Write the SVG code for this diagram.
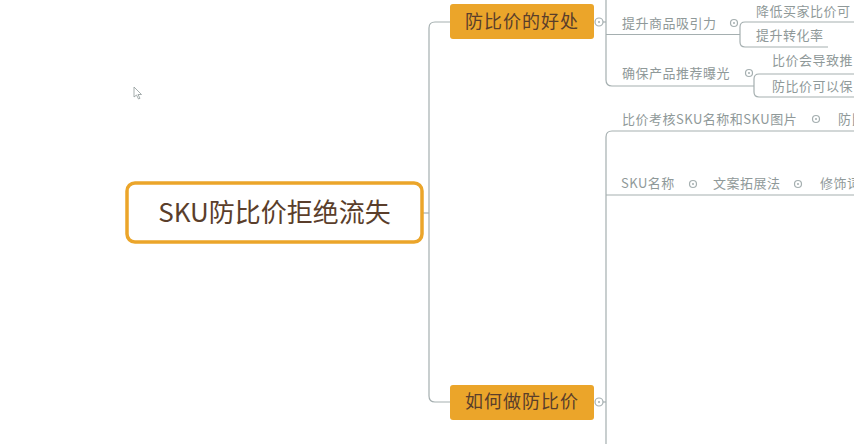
<svg xmlns="http://www.w3.org/2000/svg" width="854" height="444" viewBox="0 0 854 444">
<style>
.ln{fill:none;stroke:#a5afb0;stroke-width:1.2}
.root{fill:#ffffff;stroke:#eba52a;stroke-width:3.5}
.br{fill:#eba52a}
.rt{font-family:"Noto Sans CJK SC","Noto Sans",sans-serif;font-size:26px;fill:#5a3e2b}
.bt{font-family:"Noto Sans CJK SC","Noto Sans",sans-serif;font-size:18px;fill:#5a3e2b;letter-spacing:1px}
.st{font-family:"Noto Sans CJK SC","Noto Sans",sans-serif;font-size:13px;fill:#8f9999;letter-spacing:0.5px}
.cc{fill:#ffffff;stroke:#a5afb0;stroke-width:1.2}
.dot{fill:#a5afb0}
</style>
<rect width="854" height="444" fill="#ffffff"/>
<g id="connectors">
<path class="ln" d="M423 213 H429"/>
<path class="ln" d="M450 22 H435 Q429 22 429 28 V396 Q429 402 435 402 H450"/>
<path class="ln" d="M603 22 H606"/>
<path class="ln" d="M606 0 V80 Q606 86 612 86 H754"/>
<path class="ln" d="M606 34.5 H740"/>
<path class="ln" d="M854 22 H745 Q740 22 740 27 V42 Q740 47 745 47 H828"/>
<path class="ln" d="M854 74 H759 Q754 74 754 79 V92 Q754 97 759 97 H854"/>
<path class="ln" d="M603 402 H606"/>
<path class="ln" d="M606 444 V137 Q606 131 612 131 H854"/>
<path class="ln" d="M606 195 H854"/>
</g>
<g id="root">
<rect class="root" x="127" y="183" width="295" height="59" rx="8"/>
<text class="rt" x="274.5" y="222" text-anchor="middle">SKU防比价拒绝流失</text>
</g>
<g id="branch-benefits">
<rect class="br" x="450" y="4" width="144" height="35" rx="3"/>
<text class="bt" x="522" y="28" text-anchor="middle">防比价的好处</text>
<circle class="cc" cx="599" cy="22" r="4"/><circle class="dot" cx="599" cy="22" r="1"/>
</g>
<g id="branch-how">
<rect class="br" x="450" y="385" width="144" height="35" rx="3"/>
<text class="bt" x="522" y="408" text-anchor="middle">如何做防比价</text>
<circle class="cc" cx="599" cy="402" r="4"/><circle class="dot" cx="599" cy="402" r="1"/>
</g>
<g id="node-attract">
<text class="st" x="622" y="28">提升商品吸引力</text>
<circle class="cc" cx="734" cy="23" r="3.5"/><circle class="dot" cx="734" cy="23" r="1"/>
</g>
<g id="node-lower"><text class="st" x="756" y="16">降低买家比价可</text></g>
<g id="node-conversion"><text class="st" x="756" y="40">提升转化率</text></g>
<g id="node-exposure">
<text class="st" x="622" y="78">确保产品推荐曝光</text>
<circle class="cc" cx="749" cy="73" r="3.5"/><circle class="dot" cx="749" cy="73" r="1"/>
</g>
<g id="node-push"><text class="st" x="772" y="65">比价会导致推</text></g>
<g id="node-keep"><text class="st" x="772" y="91">防比价可以保</text></g>
<g id="node-check">
<text class="st" x="622" y="124">比价考核SKU名称和SKU图片</text>
<circle class="cc" cx="816" cy="119" r="3.5"/><circle class="dot" cx="816" cy="119" r="1"/>
<text class="st" x="838" y="124">防比</text>
</g>
<g id="node-name">
<text class="st" x="621" y="188">SKU名称</text>
<circle class="cc" cx="693" cy="184" r="3.5"/><circle class="dot" cx="693" cy="184" r="1"/>
<text class="st" x="713" y="188">文案拓展法</text>
<circle class="cc" cx="798" cy="184" r="3.5"/><circle class="dot" cx="798" cy="184" r="1"/>
<text class="st" x="820" y="188">修饰词</text>
</g>
<polygon points="134,87 134,97 136.5,95 138.5,99 140,98.3 138,94.5 141.5,94.5" fill="#ffffff" stroke="#8f9999" stroke-width="0.8"/>
</svg>
